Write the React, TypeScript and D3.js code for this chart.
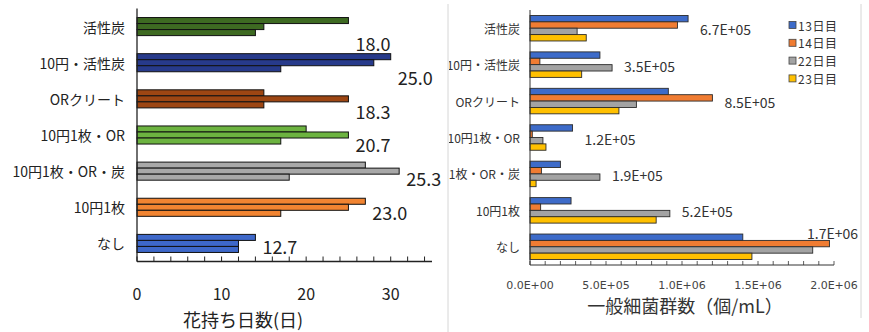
import React from 'react';
import * as d3 from 'd3';

// Flower longevity (days), three trials per treatment
const treatments = ['活性炭', '10円・活性炭', 'ORクリート', '10円1枚・OR', '10円1枚・OR・炭', '10円1枚', 'なし'];
const trial1 = [25, 30, 15, 20, 27, 27, 14];
const trial2 = [15, 28, 25, 25, 31, 25, 12];
const trial3 = [14, 17, 15, 17, 18, 17, 12];
const daysTicks = [0, 10, 20, 30];

// General bacteria count (cells/mL) by sampling day
const seriesNames = ['13日目', '14日目', '22日目', '23日目'];
const day13 = [1.04e6, 4.6e5, 9.1e5, 2.8e5, 2.0e5, 2.7e5, 1.4e6];
const day14 = [9.7e5, 6.5e4, 1.2e6, 1.5e4, 7.5e4, 7.0e4, 1.97e6];
const day22 = [3.1e5, 5.4e5, 7.0e5, 8.5e4, 4.6e5, 9.2e5, 1.86e6];
const day23 = [3.7e5, 3.4e5, 5.85e5, 1.05e5, 4.0e4, 8.3e5, 1.46e6];
const countTicks = [0, 5e5, 1e6, 1.5e6, 2e6];

const treatmentColors = ['#3e6a22', '#273a8b', '#9d4613', '#6cb340', '#a8a8a8', '#f18431', '#3e68c9'];
const dayColors = ['#3d6bc9', '#f07c32', '#a3a3a3', '#ffc000'];

const JP = '"Noto Sans CJK JP", "Noto Sans", sans-serif';

const sci = (v: number) => {
  const [m, e] = v.toExponential(1).split('e');
  return `${m}E${e[0]}${e.slice(1).padStart(2, '0')}`;
};

export default function App() {
  const W = 869;
  const H = 332;

  // ---------- left panel: longevity ----------
  const trials = [trial1, trial2, trial3];
  const xL = d3.scaleLinear().domain([0, 35]).range([137, 433]);
  const yL = d3.scaleBand<string>().domain(treatments).range([8.5, 261.5]).paddingInner(0.5).paddingOuter(0.25);
  const inL = d3.scaleBand<number>().domain([0, 1, 2]).range([0, yL.bandwidth()]);
  const axisYL = 261.5;

  // ---------- right panel: bacteria ----------
  const days = [day13, day14, day22, day23];
  const xR = d3.scaleLinear().domain([0, 2e6]).range([530, 834]);
  const yR = d3.scaleBand<string>().domain(treatments).range([10, 265]).paddingInner(0.3).paddingOuter(0.15);
  const inR = d3.scaleBand<number>().domain([0, 1, 2, 3]).range([0, yR.bandwidth()]);
  const axisYR = 265;

  return (
    <div style={{ position: 'absolute', left: 0, top: 0 }}>
      <svg width={W} height={H} viewBox={`0 0 ${W} ${H}`} style={{ display: 'block', background: '#fff' }}>
        <defs>
          <clipPath id="rightPanel">
            <rect x={449} y={0} width={420} height={H} />
          </clipPath>
        </defs>

        {/* left panel bars */}
        <g>
          {treatments.map((t, i) =>
            trials.map((arr, j) => (
              <rect
                key={`${t}-${j}`}
                x={xL(0)}
                y={(yL(t) as number) + (inL(j) as number)}
                width={xL(arr[i]) - xL(0)}
                height={inL.bandwidth()}
                fill={treatmentColors[i]}
                stroke="#111"
                strokeWidth={1}
              />
            ))
          )}
          {/* mean labels */}
          {treatments.map((t, i) => {
            const vals = trials.map((a) => a[i]);
            const mean = d3.mean(vals) as number;
            const maxV = d3.max(vals) as number;
            const y = (yL(t) as number) + yL.bandwidth() / 2 + (16.5 - 2.4 * i);
            return (
              <text
                key={`m-${t}`}
                x={xL(maxV) + 7}
                y={y}
                dominantBaseline="central"
                fontFamily={JP}
                fontSize={18}
                fill="#222"
              >
                {mean.toFixed(1)}
              </text>
            );
          })}
          {/* category labels */}
          {treatments.map((t) => (
            <text
              key={`c-${t}`}
              x={125}
              y={(yL(t) as number) + yL.bandwidth() / 2}
              textAnchor="end"
              dominantBaseline="central"
              fontFamily={JP}
              fontSize={14}
              fill="#222"
            >
              {t}
            </text>
          ))}
          {/* axes */}
          <line x1={xL(0)} x2={xL(0)} y1={8.5} y2={axisYL} stroke="#222" strokeWidth={1.3} />
          <line x1={xL(0)} x2={432} y1={axisYL} y2={axisYL} stroke="#222" strokeWidth={1.5} />
          {d3.range(0, 35, 2).map((v) => (
            <line key={`lt-${v}`} x1={xL(v)} x2={xL(v)} y1={axisYL - 5} y2={axisYL} stroke="#222" strokeWidth={1} />
          ))}
          {daysTicks.map((v) => (
            <text
              key={`ll-${v}`}
              x={xL(v)}
              y={293}
              textAnchor="middle"
              dominantBaseline="central"
              fontFamily={JP}
              fontSize={16}
              fill="#222"
            >
              {v}
            </text>
          ))}
          <text x={243} y={319} textAnchor="middle" dominantBaseline="central" fontFamily={JP} fontSize={18} fill="#222">
            花持ち日数(日)
          </text>
        </g>

        {/* right panel frame */}
        <line x1={448} x2={448} y1={4} y2={H} stroke="#d6d6d6" strokeWidth={1} />
        <line x1={861} x2={861} y1={4} y2={318} stroke="#d6d6d6" strokeWidth={1} />

        <g clipPath="url(#rightPanel)">
          {treatments.map((t, i) =>
            days.map((arr, j) => (
              <rect
                key={`r-${t}-${j}`}
                x={xR(0)}
                y={(yR(t) as number) + (inR(j) as number)}
                width={xR(arr[i]) - xR(0)}
                height={inR.bandwidth()}
                fill={dayColors[j]}
                stroke="#2b2b2b"
                strokeWidth={0.9}
              />
            ))
          )}
          {/* mean labels */}
          {treatments.map((t, i) => {
            const vals = days.map((a) => a[i]);
            const mean = d3.mean(vals) as number;
            const maxV = d3.max(vals) as number;
            const x0 = xR(maxV) + 12;
            const overflow = x0 + 50 > 858;
            return overflow ? (
              <text
                key={`rm-${t}`}
                x={858}
                y={(yR(t) as number) - 1.5}
                textAnchor="end"
                dominantBaseline="central"
                fontFamily={JP}
                fontSize={14}
                fill="#333"
              >
                {sci(mean)}
              </text>
            ) : (
              <text
                key={`rm-${t}`}
                x={x0}
                y={(yR(t) as number) + yR.bandwidth() / 2 + 1}
                dominantBaseline="central"
                fontFamily={JP}
                fontSize={14}
                fill="#333"
              >
                {sci(mean)}
              </text>
            );
          })}
          {/* category labels */}
          {treatments.map((t) => (
            <text
              key={`rc-${t}`}
              x={520}
              y={(yR(t) as number) + yR.bandwidth() / 2}
              textAnchor="end"
              dominantBaseline="central"
              fontFamily={JP}
              fontSize={12}
              fill="#333"
            >
              {t}
            </text>
          ))}
          {/* axes */}
          <line x1={xR(0)} x2={xR(0)} y1={10} y2={axisYR} stroke="#333" strokeWidth={1} />
          <line x1={xR(0)} x2={xR(2e6)} y1={axisYR} y2={axisYR} stroke="#333" strokeWidth={1} />
          {d3.range(0, 2e6 + 1, 1e5).map((v) => (
            <line key={`rt-${v}`} x1={xR(v)} x2={xR(v)} y1={axisYR - 4} y2={axisYR} stroke="#333" strokeWidth={0.8} />
          ))}
          {countTicks.map((v) => (
            <text
              key={`rl-${v}`}
              x={xR(v)}
              y={285}
              textAnchor="middle"
              dominantBaseline="central"
              fontFamily='"DejaVu Sans", sans-serif'
              fontSize={11}
              fill="#444"
            >
              {sci(v)}
            </text>
          ))}
          <text x={685} y={305} textAnchor="middle" dominantBaseline="central" fontFamily={JP} fontSize={18} fill="#333">
            一般細菌群数（個/mL）
          </text>
          {/* legend */}
          {seriesNames.map((s, j) => (
            <g key={`lg-${s}`} transform={`translate(789, ${25 + j * 17.8})`}>
              <rect x={0} y={-3.5} width={7} height={7} fill={dayColors[j]} stroke="#444" strokeWidth={0.8} />
              <text x={9} y={0} dominantBaseline="central" fontFamily={JP} fontSize={12} letterSpacing={0.6} fill="#333">
                {s}
              </text>
            </g>
          ))}
        </g>
      </svg>
    </div>
  );
}
